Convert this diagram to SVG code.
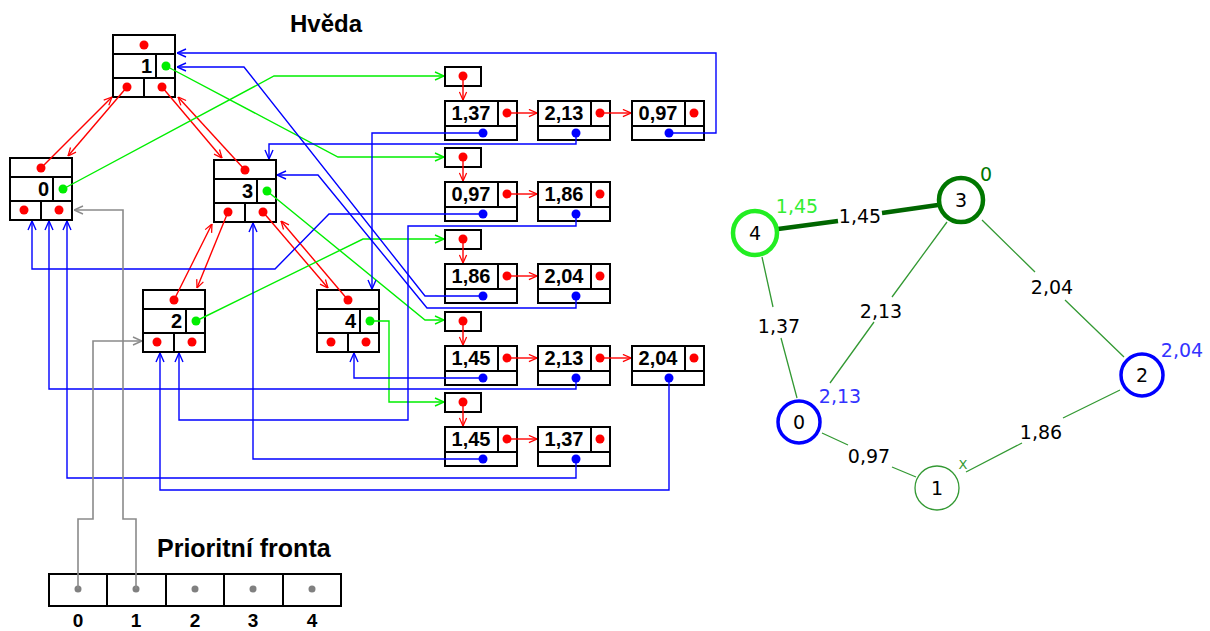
<svg xmlns="http://www.w3.org/2000/svg" width="1210" height="631" viewBox="0 0 1210 631">
<style>
.box{fill:#fff;stroke:#000;stroke-width:2}
.ln{stroke:#000;stroke-width:2;fill:none}
.r{fill:#ff0000}.g{fill:#00ee00}.b{fill:#0000ff}.gr{fill:#808080}
.num{font-family:"Liberation Sans",Arial,sans-serif;font-weight:bold;font-size:20px;text-anchor:end}
.val{font-family:"Liberation Sans",Arial,sans-serif;font-weight:bold;font-size:20px;text-anchor:middle}
.ttl{font-family:"Liberation Sans",Arial,sans-serif;font-weight:bold;font-size:24px}
.qn{font-family:"Liberation Sans",Arial,sans-serif;font-weight:bold;font-size:19px;text-anchor:middle}
.cr{stroke:#ff0000;stroke-width:1.4;fill:none;marker-end:url(#ar)}
.cg{stroke:#00ee00;stroke-width:1.4;fill:none;marker-end:url(#ag)}
.cb{stroke:#0000ff;stroke-width:1.4;fill:none;marker-end:url(#ab)}
.cy{stroke:#8a8a8a;stroke-width:1.6;fill:none;marker-end:url(#ay)}
.ge{stroke:#339933;stroke-width:1.3;fill:none}
.gt{font-family:"DejaVu Sans",Verdana,sans-serif;font-size:19px;text-anchor:middle}
</style>
<defs>
<marker id="ar" viewBox="0 0 10 10" refX="10" refY="5" markerWidth="9" markerHeight="9" markerUnits="userSpaceOnUse" orient="auto"><path d="M1,1 L10,5 L1,9" fill="none" stroke="#ff0000" stroke-width="1.4"/></marker>
<marker id="ag" viewBox="0 0 10 10" refX="10" refY="5" markerWidth="10" markerHeight="10" markerUnits="userSpaceOnUse" orient="auto"><path d="M1,1 L10,5 L1,9" fill="none" stroke="#00ee00" stroke-width="1.4"/></marker>
<marker id="ab" viewBox="0 0 10 10" refX="10" refY="5" markerWidth="10" markerHeight="10" markerUnits="userSpaceOnUse" orient="auto"><path d="M1,1 L10,5 L1,9" fill="none" stroke="#0000ff" stroke-width="1.4"/></marker>
<marker id="ay" viewBox="0 0 10 10" refX="10" refY="5" markerWidth="10" markerHeight="10" markerUnits="userSpaceOnUse" orient="auto"><path d="M1,1 L10,5 L1,9" fill="none" stroke="#8a8a8a" stroke-width="1.4"/></marker>
</defs>
<rect width="1210" height="631" fill="#fff"/>

<text class="ttl" x="290" y="32">Hvěda</text>
<text class="ttl" x="157" y="557" style="font-size:25px">Prioritní fronta</text>

<!-- heap nodes -->
<g id="heap1">
<rect class="box" x="113" y="35" width="62" height="62"/>
<path class="ln" d="M113,54H175M113,78H175M156,54V78M144,78V97"/>
<circle class="r" cx="144" cy="45" r="4.5"/><circle class="g" cx="166" cy="66" r="4.5"/>
<circle class="r" cx="127" cy="87" r="4.5"/><circle class="r" cx="162" cy="87" r="4.5"/>
<text class="num" x="152" y="73">1</text>
</g>
<g id="heap0">
<rect class="box" x="10" y="158" width="62" height="62"/>
<path class="ln" d="M10,177H72M10,201H72M53,177V201M41,201V220"/>
<circle class="r" cx="41" cy="168" r="4.5"/><circle class="g" cx="63" cy="189" r="4.5"/>
<circle class="r" cx="24" cy="210" r="4.5"/><circle class="r" cx="59" cy="210" r="4.5"/>
<text class="num" x="49" y="196">0</text>
</g>
<g id="heap3">
<rect class="box" x="214" y="160" width="62" height="62"/>
<path class="ln" d="M214,179H276M214,203H276M257,179V203M245,203V222"/>
<circle class="r" cx="245" cy="170" r="4.5"/><circle class="g" cx="267" cy="191" r="4.5"/>
<circle class="r" cx="228" cy="212" r="4.5"/><circle class="r" cx="263" cy="212" r="4.5"/>
<text class="num" x="253" y="198">3</text>
</g>
<g id="heap2">
<rect class="box" x="143" y="290" width="62" height="62"/>
<path class="ln" d="M143,309H205M143,333H205M186,309V333M174,333V352"/>
<circle class="r" cx="174" cy="300" r="4.5"/><circle class="g" cx="196" cy="321" r="4.5"/>
<circle class="r" cx="157" cy="342" r="4.5"/><circle class="r" cx="192" cy="342" r="4.5"/>
<text class="num" x="182" y="328">2</text>
</g>
<g id="heap4">
<rect class="box" x="317" y="290" width="62" height="62"/>
<path class="ln" d="M317,309H379M317,333H379M360,309V333M348,333V352"/>
<circle class="r" cx="348" cy="300" r="4.5"/><circle class="g" cx="370" cy="321" r="4.5"/>
<circle class="r" cx="331" cy="342" r="4.5"/><circle class="r" cx="366" cy="342" r="4.5"/>
<text class="num" x="356" y="328">4</text>
</g>

<!-- adjacency lists -->
<g id="list0">
<rect class="box" x="445" y="67" width="36" height="19"/><circle class="r" cx="463" cy="76" r="4.5"/>
<rect class="box" x="445" y="101" width="72" height="39"/><path class="ln" d="M445,126H517M498,101V126"/>
<text class="val" x="471" y="120">1,37</text><circle class="r" cx="507" cy="113" r="4.5"/><circle class="b" cx="483" cy="133" r="4.5"/>
<rect class="box" x="538" y="101" width="72" height="39"/><path class="ln" d="M538,126H610M591,101V126"/>
<text class="val" x="564" y="120">2,13</text><circle class="r" cx="600" cy="113" r="4.5"/><circle class="b" cx="576" cy="133" r="4.5"/>
<rect class="box" x="632" y="101" width="72" height="39"/><path class="ln" d="M632,126H704M685,101V126"/>
<text class="val" x="658" y="120">0,97</text><circle class="r" cx="694" cy="113" r="4.5"/><circle class="b" cx="669" cy="133" r="4.5"/>
</g>
<g id="list1">
<rect class="box" x="445" y="148" width="36" height="19"/><circle class="r" cx="463" cy="157" r="4.5"/>
<rect class="box" x="445" y="182" width="72" height="39"/><path class="ln" d="M445,207H517M498,182V207"/>
<text class="val" x="471" y="201">0,97</text><circle class="r" cx="507" cy="194" r="4.5"/><circle class="b" cx="483" cy="214" r="4.5"/>
<rect class="box" x="538" y="182" width="72" height="39"/><path class="ln" d="M538,207H610M591,182V207"/>
<text class="val" x="564" y="201">1,86</text><circle class="r" cx="600" cy="194" r="4.5"/><circle class="b" cx="576" cy="214" r="4.5"/>
</g>
<g id="list2">
<rect class="box" x="445" y="230" width="36" height="19"/><circle class="r" cx="463" cy="239" r="4.5"/>
<rect class="box" x="445" y="264" width="72" height="39"/><path class="ln" d="M445,289H517M498,264V289"/>
<text class="val" x="471" y="283">1,86</text><circle class="r" cx="507" cy="276" r="4.5"/><circle class="b" cx="483" cy="296" r="4.5"/>
<rect class="box" x="538" y="264" width="72" height="39"/><path class="ln" d="M538,289H610M591,264V289"/>
<text class="val" x="564" y="283">2,04</text><circle class="r" cx="600" cy="276" r="4.5"/><circle class="b" cx="576" cy="296" r="4.5"/>
</g>
<g id="list3">
<rect class="box" x="445" y="312" width="36" height="19"/><circle class="r" cx="463" cy="321" r="4.5"/>
<rect class="box" x="445" y="346" width="72" height="39"/><path class="ln" d="M445,371H517M498,346V371"/>
<text class="val" x="471" y="365">1,45</text><circle class="r" cx="507" cy="358" r="4.5"/><circle class="b" cx="483" cy="378" r="4.5"/>
<rect class="box" x="538" y="346" width="72" height="39"/><path class="ln" d="M538,371H610M591,346V371"/>
<text class="val" x="564" y="365">2,13</text><circle class="r" cx="600" cy="358" r="4.5"/><circle class="b" cx="576" cy="378" r="4.5"/>
<rect class="box" x="632" y="346" width="72" height="39"/><path class="ln" d="M632,371H704M685,346V371"/>
<text class="val" x="658" y="365">2,04</text><circle class="r" cx="694" cy="358" r="4.5"/><circle class="b" cx="669" cy="378" r="4.5"/>
</g>
<g id="list4">
<rect class="box" x="445" y="393" width="36" height="19"/><circle class="r" cx="463" cy="402" r="4.5"/>
<rect class="box" x="445" y="427" width="72" height="39"/><path class="ln" d="M445,452H517M498,427V452"/>
<text class="val" x="471" y="446">1,45</text><circle class="r" cx="507" cy="439" r="4.5"/><circle class="b" cx="483" cy="459" r="4.5"/>
<rect class="box" x="538" y="427" width="72" height="39"/><path class="ln" d="M538,452H610M591,427V452"/>
<text class="val" x="564" y="446">1,37</text><circle class="r" cx="600" cy="439" r="4.5"/><circle class="b" cx="576" cy="459" r="4.5"/>
</g>

<!-- priority queue -->
<g id="queue">
<rect class="box" x="49" y="574" width="292" height="32"/>
<path class="ln" d="M107,574V606M166,574V606M224,574V606M283,574V606"/>
<circle class="gr" cx="78" cy="589" r="3.5"/><circle class="gr" cx="136" cy="589" r="3.5"/><circle class="gr" cx="195" cy="589" r="3.5"/><circle class="gr" cx="253" cy="589" r="3.5"/><circle class="gr" cx="312" cy="589" r="3.5"/>
<text class="qn" x="78" y="627">0</text><text class="qn" x="136" y="627">1</text><text class="qn" x="195" y="627">2</text><text class="qn" x="253" y="627">3</text><text class="qn" x="312" y="627">4</text>
</g>

<!-- connectors -->
<g id="connectors">
<path class="cr" d="M127,87L68,156"/>
<path class="cr" d="M41,168L112,97"/>
<path class="cr" d="M162,87L222,158"/>
<path class="cr" d="M245,170L178,97"/>
<path class="cr" d="M228,212L197,288"/>
<path class="cr" d="M174,300L212,224"/>
<path class="cr" d="M263,212L328,288"/>
<path class="cr" d="M348,300L281,221"/>
<path class="cr" d="M463,76V100"/><path class="cr" d="M463,157V181"/><path class="cr" d="M463,239V263"/><path class="cr" d="M463,321V345"/><path class="cr" d="M463,402V426"/>
<path class="cr" d="M507,113H537"/><path class="cr" d="M600,113H631"/>
<path class="cr" d="M507,194H537"/>
<path class="cr" d="M507,276H537"/>
<path class="cr" d="M507,358H537"/><path class="cr" d="M600,358H631"/>
<path class="cr" d="M507,439H537"/>

<path class="cg" d="M166,66L338,157H444"/>
<path class="cg" d="M63,189L274,76H444"/>
<path class="cg" d="M267,191L425,320H444"/>
<path class="cg" d="M196,321L363,239H444"/>
<path class="cg" d="M370,321H389V402H444"/>

<path class="cb" d="M483,133H372V289"/>
<path class="cb" d="M576,133V144H269V159"/>
<path class="cb" d="M669,133H716V53H177"/>
<path class="cb" d="M483,214H329L275,269H32V221"/>
<path class="cb" d="M576,214V226H408V420H179V353"/>
<path class="cb" d="M483,296H425L244,67H177"/>
<path class="cb" d="M576,296V308H427L318,175H277"/>
<path class="cb" d="M483,378H354V353"/>
<path class="cb" d="M576,378V389H49V221"/>
<path class="cb" d="M669,378V490H160V353"/>
<path class="cb" d="M483,459H253V223"/>
<path class="cb" d="M576,459V478H67V221"/>

<path class="cy" d="M78,589V519H93V341H142"/>
<path class="cy" d="M136,589V519H123V210H74"/>
</g>

<!-- graph -->
<g id="graph-edges">
<path d="M778,229L838,221M882,213L938,205" stroke="#006600" stroke-width="4.5" fill="none"/>
<path class="ge" d="M762,257L773,307M781,338L797,398"/>
<path class="ge" d="M947,222L892,297M874,322L830,383"/>
<path class="ge" d="M982,220L1035,272M1065,300L1124,357"/>
<path class="ge" d="M1120,390L1063,418M1022,443L966,472"/>
<path class="ge" d="M822,433L848,445M892,467L916,477"/>
<text class="gt" x="860" y="223">1,45</text>
<text class="gt" x="779" y="333">1,37</text>
<text class="gt" x="881" y="318">2,13</text>
<text class="gt" x="1052" y="294">2,04</text>
<text class="gt" x="1041" y="439">1,86</text>
<text class="gt" x="869" y="463">0,97</text>
</g>
<g id="gnode4">
<circle cx="755" cy="233" r="22" fill="#fff" stroke="#22ee22" stroke-width="4.5"/>
<text class="gt" x="755" y="240">4</text>
<text class="gt" x="797" y="213" fill="#33ee33">1,45</text>
</g>
<g id="gnode3">
<circle cx="961" cy="200" r="22" fill="#fff" stroke="#007700" stroke-width="4.5"/>
<text class="gt" x="961" y="207">3</text>
<text class="gt" x="986" y="181" fill="#007700">0</text>
</g>
<g id="gnode2">
<circle cx="1142" cy="375" r="21" fill="#fff" stroke="#0000ff" stroke-width="3.5"/>
<text class="gt" x="1142" y="382">2</text>
<text class="gt" x="1182" y="357" fill="#3333ff">2,04</text>
</g>
<g id="gnode0">
<circle cx="799" cy="422" r="21" fill="#fff" stroke="#0000ff" stroke-width="3.5"/>
<text class="gt" x="799" y="429">0</text>
<text class="gt" x="840" y="403" fill="#3333ff">2,13</text>
</g>
<g id="gnode1">
<circle cx="937" cy="488" r="22" fill="#fff" stroke="#339933" stroke-width="1.3"/>
<text class="gt" x="937" y="495">1</text>
<text class="gt" x="963" y="469" fill="#339933" style="font-size:13px">X</text>
</g>
</svg>
